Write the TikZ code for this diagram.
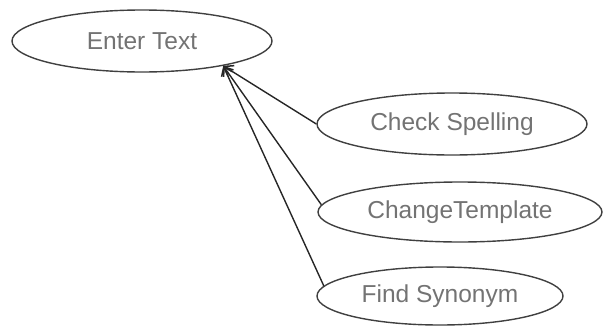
\documentclass[tikz,border=0pt]{standalone}
\usepackage{fontspec}
\setmainfont{Liberation Sans}
\usetikzlibrary{shapes.geometric,arrows.meta}
\begin{document}
\begin{tikzpicture}[x=1pt,y=-1pt,
  usecase/.style={draw=black!75, line width=1.4pt, ellipse, inner sep=0pt,
    text=black!55, font=\fontsize{24.5}{28}\selectfont},
  link/.style={draw=black!85, line width=1.4pt, -{Straight Barb[length=8pt,width=12pt,line width=1.5pt]}}]
\useasboundingbox (0,0) rectangle (603,327);
\node[usecase, minimum width=260pt, minimum height=62pt] (et) at (142,41) {Enter Text};
\node[usecase, minimum width=270pt, minimum height=62pt] (cs) at (452,124) {Check Spelling};
\node[usecase, minimum width=284pt, minimum height=60pt] (ct) at (460,212) {ChangeTemplate};
\node[usecase, minimum width=246pt, minimum height=58pt] (fs) at (440,296) {Find Synonym};
\draw[link] (cs.180) -- (et.-17);
\draw[link] (ct.177) -- (et.-17);
\draw[link] (fs.175) -- (et.-17);
\end{tikzpicture}
\end{document}
